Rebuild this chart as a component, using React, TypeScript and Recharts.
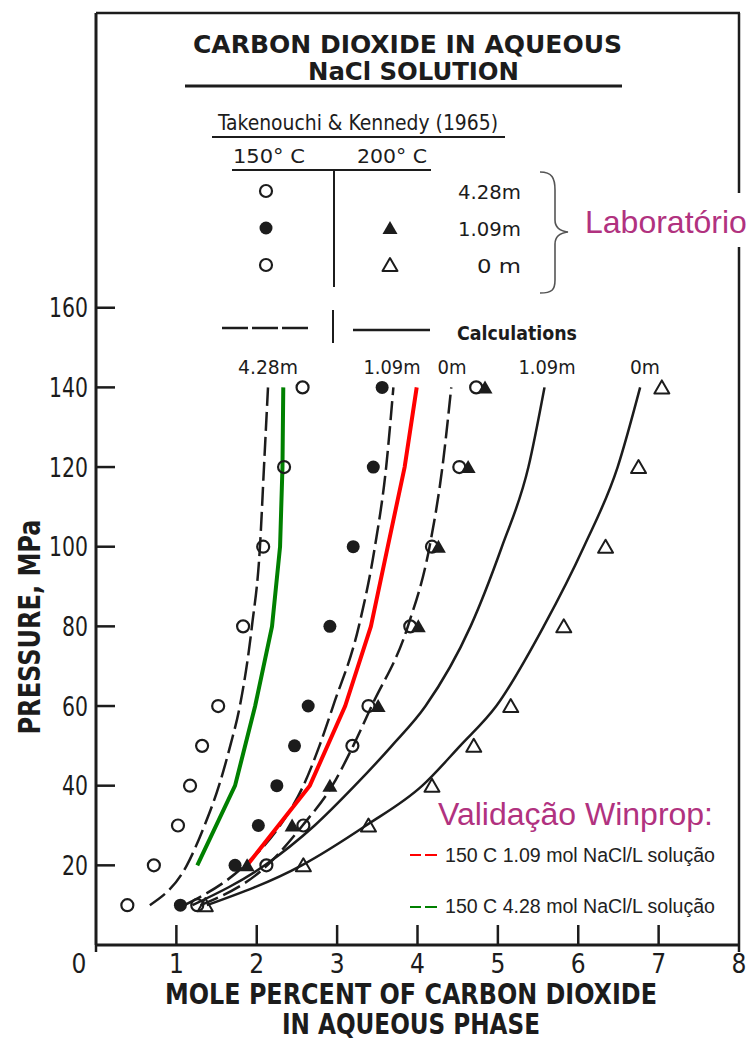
import React from "react";
import { ComposedChart, Line, Scatter, XAxis, YAxis } from "recharts";

// pressure levels, MPa
const pressures = [10, 20, 30, 40, 50, 60, 80, 100, 120, 140];
const winpropPressures = [20, 40, 60, 80, 100, 120, 140];

// Takenouchi & Kennedy (1965), mole % CO2 in aqueous phase
const exp150_428 = [0.39, 0.72, 1.02, 1.17, 1.32, 1.52, 1.83, 2.08, 2.34, 2.57];
const exp150_109 = [1.05, 1.73, 2.02, 2.25, 2.47, 2.64, 2.91, 3.2, 3.45, 3.56];
const exp150_0P = [10, 20, 30, 50, 60, 80, 100, 120, 140];
const exp150_0 = [1.26, 2.12, 2.58, 3.19, 3.39, 3.91, 4.18, 4.52, 4.73];
const exp200_109P = [20, 30, 40, 60, 80, 100, 120, 140];
const exp200_109 = [1.88, 2.44, 2.91, 3.51, 4.01, 4.26, 4.63, 4.84];
const exp200_0 = [1.36, 2.58, 3.39, 4.18, 4.7, 5.16, 5.82, 6.34, 6.75, 7.04];

// calculations (dashed = 150 C, solid = 200 C)
const calc150_428 = [0.67, 1.13, 1.35, 1.53, 1.67, 1.79, 1.94, 2.04, 2.09, 2.14];
const calc150_109 = [1.1, 1.85, 2.29, 2.58, 2.78, 2.95, 3.27, 3.47, 3.61, 3.7];
const calc150_0 = [1.3, 2.13, 2.57, 2.94, 3.2, 3.43, 3.88, 4.15, 4.31, 4.42];
const calc200_109 = [1.2, 2.1, 2.72, 3.22, 3.68, 4.1, 4.66, 5.05, 5.38, 5.58];
const calc200_0 = [1.38, 2.56, 3.36, 4.06, 4.53, 4.98, 5.57, 6.07, 6.49, 6.77];

// Winprop validation, 150 C
const winprop109 = [1.88, 2.66, 3.1, 3.42, 3.63, 3.84, 3.99];
const winprop428 = [1.26, 1.73, 1.98, 2.19, 2.29, 2.32, 2.33];

const xTicks = [0, 1, 2, 3, 4, 5, 6, 7, 8];
const yTicks = [20, 40, 60, 80, 100, 120, 140, 160];

const INK = "#1c1c1c";
const MAGENTA = "#b1327f";
const LETTER = "'Liberation Sans Narrow', 'DejaVu Sans Condensed', 'Liberation Sans', sans-serif";
const SANS = "'Liberation Sans', Arial, sans-serif";

const toPts = (ps: number[], xs: number[]) => xs.map((x, i) => ({ x, y: ps[i] }));

const OpenCircle = (p: any) => (
  <circle cx={p.cx} cy={p.cy} r={6} fill="none" stroke={INK} strokeWidth={2.2} />
);
const FilledCircle = (p: any) => <circle cx={p.cx} cy={p.cy} r={6.5} fill={INK} />;
const triPath = (cx: number, cy: number) =>
  `M${cx},${cy - 7} L${cx + 7.5},${cy + 6} L${cx - 7.5},${cy + 6} Z`;
const OpenTriangle = (p: any) => (
  <path d={triPath(p.cx, p.cy)} fill="none" stroke={INK} strokeWidth={2} strokeLinejoin="round" />
);
const FilledTriangle = (p: any) => <path d={triPath(p.cx, p.cy)} fill={INK} />;

const XTick = (props: any) => {
  const { x, y, payload } = props;
  const v = payload.value;
  const edge = v === 0 || v === 8;
  return (
    <g>
      <line x1={x} x2={x} y1={y} y2={edge ? y + 7 : y - 20} stroke={INK} strokeWidth={2.5} />
      <text x={v === 0 ? x - 17 : x} y={y + 28} textAnchor="middle" fontFamily={LETTER} fontSize={26} fill={INK}>
        {v}
      </text>
    </g>
  );
};

const YTick = (props: any) => {
  const { x, y, payload } = props;
  const s = String(payload.value);
  return (
    <g>
      <line x1={x + 8} x2={x + 27} y1={y} y2={y} stroke={INK} strokeWidth={2.5} />
      <text x={x} y={y} dy="0.36em" textAnchor="end" fontFamily={LETTER} fontSize={27} fill={INK}
        textLength={s.length * 13} lengthAdjust="spacingAndGlyphs">
        {s}
      </text>
    </g>
  );
};

const T = (p: any) => (
  <text fontFamily={LETTER} fill={INK} lengthAdjust="spacingAndGlyphs" {...p} />
);

function Overlay() {
  return (
    <svg width={749} height={1043} style={{ position: "absolute", left: 0, top: 0, pointerEvents: "none" }}>
      {/* frame */}
      <line x1={96} x2={740} y1={13} y2={13} stroke={INK} strokeWidth={2.5} />
      <line x1={739} x2={739} y1={13} y2={945} stroke={INK} strokeWidth={2.5} />

      {/* title */}
      <T x={193} y={53} fontSize={25} fontWeight={700} textLength={429}>CARBON DIOXIDE IN AQUEOUS</T>
      <T x={308} y={80} fontSize={25} fontWeight={700} textLength={211}>NaCl SOLUTION</T>
      <line x1={185} x2={622} y1={86} y2={86} stroke={INK} strokeWidth={3} />

      {/* data legend */}
      <T x={218} y={130} fontSize={21} textLength={280}>Takenouchi &amp; Kennedy (1965)</T>
      <line x1={212} x2={505} y1={137} y2={137} stroke={INK} strokeWidth={2} />
      <T x={233} y={163} fontSize={20} textLength={72}>150° C</T>
      <T x={357} y={163} fontSize={20} textLength={70}>200° C</T>
      <line x1={232} x2={431} y1={170} y2={170} stroke={INK} strokeWidth={2} />
      <line x1={334} x2={334} y1={170} y2={287} stroke={INK} strokeWidth={2} />
      <OpenCircle cx={266} cy={191} />
      <FilledCircle cx={266} cy={228} />
      <FilledTriangle cx={390} cy={228} />
      <OpenCircle cx={266} cy={265} />
      <OpenTriangle cx={390} cy={265} />
      <T x={521} y={199} fontSize={20} textAnchor="end" textLength={63}>4.28m</T>
      <T x={521} y={236} fontSize={20} textAnchor="end" textLength={63}>1.09m</T>
      <T x={521} y={273} fontSize={20} textAnchor="end" textLength={44}>0 m</T>
      <path d="M540,172 C552,172 555,178 555,190 L555,220 C555,228 560,231 568,232 C560,233 555,236 555,244 L555,280 C555,290 552,293 540,293"
        fill="none" stroke="#555" strokeWidth={1.6} />
      <rect x={574} y={193} width={175} height={54} fill="#fff" />
      <text x={585} y={233} fontFamily={SANS} fontSize={32} fill={MAGENTA}>Laboratório</text>

      {/* calculations legend */}
      <line x1={222} x2={312} y1={328} y2={328} stroke={INK} strokeWidth={2.5} strokeDasharray="26 4" />
      <line x1={333} x2={333} y1={310} y2={343} stroke={INK} strokeWidth={2} />
      <line x1={353} x2={430} y1={330} y2={330} stroke={INK} strokeWidth={2.5} />
      <T x={457} y={340} fontSize={19} fontWeight={700} textLength={120}>Calculations</T>

      {/* curve labels */}
      <T x={268} y={374} fontSize={20} textAnchor="middle" textLength={60}>4.28m</T>
      <T x={392} y={374} fontSize={20} textAnchor="middle" textLength={57}>1.09m</T>
      <T x={452} y={374} fontSize={20} textAnchor="middle" textLength={29}>0m</T>
      <T x={547} y={374} fontSize={20} textAnchor="middle" textLength={57}>1.09m</T>
      <T x={645} y={374} fontSize={20} textAnchor="middle" textLength={30}>0m</T>

      {/* Winprop legend */}
      <text x={438} y={825} fontFamily={SANS} fontSize={31} fill={MAGENTA} textLength={275} lengthAdjust="spacingAndGlyphs">
        Validação Winprop:
      </text>
      <line x1={410} x2={421} y1={855} y2={855} stroke="#ff0000" strokeWidth={2} />
      <line x1={425} x2={437} y1={855} y2={855} stroke="#ff0000" strokeWidth={2} />
      <text x={445} y={862} fontFamily={SANS} fontSize={19.5} fill="#222" textLength={270} lengthAdjust="spacingAndGlyphs">
        150 C 1.09 mol NaCl/L solução
      </text>
      <line x1={410} x2={421} y1={907} y2={907} stroke="#008000" strokeWidth={2} />
      <line x1={425} x2={437} y1={907} y2={907} stroke="#008000" strokeWidth={2} />
      <text x={445} y={913} fontFamily={SANS} fontSize={19.5} fill="#222" textLength={270} lengthAdjust="spacingAndGlyphs">
        150 C 4.28 mol NaCl/L solução
      </text>

      {/* axis titles */}
      <T x={40} y={627} fontSize={31} fontWeight={700} textAnchor="middle" textLength={215}
        transform="rotate(-90 40 627)">PRESSURE, MPa</T>
      <T x={165} y={1004} fontSize={29} fontWeight={700} textLength={492}>MOLE PERCENT OF CARBON DIOXIDE</T>
      <T x={282} y={1034} fontSize={28} fontWeight={700} textLength={258}>IN AQUEOUS PHASE</T>
    </svg>
  );
}

const dashed = { stroke: INK, strokeWidth: 2.5, strokeDasharray: "19 6" };
const solid = { stroke: INK, strokeWidth: 2.5 };

export default function App() {
  return (
    <div style={{ position: "absolute", left: 0, top: 0, width: 749, height: 1043, background: "#fff" }}>
      <ComposedChart width={749} height={1043} margin={{ top: 13, right: 10, bottom: 0, left: 0 }}>
        <XAxis type="number" dataKey="x" domain={[0, 8]} ticks={xTicks} interval={0} height={98}
          allowDataOverflow axisLine={{ stroke: INK, strokeWidth: 3 }} tickLine={false}
          tickSize={0} tickMargin={0} tick={(p: any) => <XTick {...p} />} />
        <YAxis type="number" dataKey="y" domain={[0, 234]} ticks={yTicks} interval={0} width={96}
          allowDataOverflow axisLine={{ stroke: INK, strokeWidth: 3 }} tickLine={false}
          tickSize={0} tickMargin={8} tick={(p: any) => <YTick {...p} />} />

        <Line data={toPts(pressures, calc150_428)} dataKey="y" type="monotone" dot={false} {...dashed} isAnimationActive={false} />
        <Line data={toPts(pressures, calc150_109)} dataKey="y" type="monotone" dot={false} {...dashed} isAnimationActive={false} />
        <Line data={toPts(pressures, calc150_0)} dataKey="y" type="monotone" dot={false} {...dashed} isAnimationActive={false} />
        <Line data={toPts(pressures, calc200_109)} dataKey="y" type="monotone" dot={false} {...solid} isAnimationActive={false} />
        <Line data={toPts(pressures, calc200_0)} dataKey="y" type="monotone" dot={false} {...solid} isAnimationActive={false} />

        <Line data={toPts(winpropPressures, winprop109)} dataKey="y" type="linear" dot={false} stroke="#ff0000" strokeWidth={4} isAnimationActive={false} />
        <Line data={toPts(winpropPressures, winprop428)} dataKey="y" type="linear" dot={false} stroke="#008000" strokeWidth={4} isAnimationActive={false} />

        <Scatter data={toPts(pressures, exp150_428)} shape={OpenCircle} isAnimationActive={false} />
        <Scatter data={toPts(pressures, exp150_109)} shape={FilledCircle} isAnimationActive={false} />
        <Scatter data={toPts(exp150_0P, exp150_0)} shape={OpenCircle} isAnimationActive={false} />
        <Scatter data={toPts(exp200_109P, exp200_109)} shape={FilledTriangle} isAnimationActive={false} />
        <Scatter data={toPts(pressures, exp200_0)} shape={OpenTriangle} isAnimationActive={false} />
      </ComposedChart>
      <Overlay />
    </div>
  );
}
